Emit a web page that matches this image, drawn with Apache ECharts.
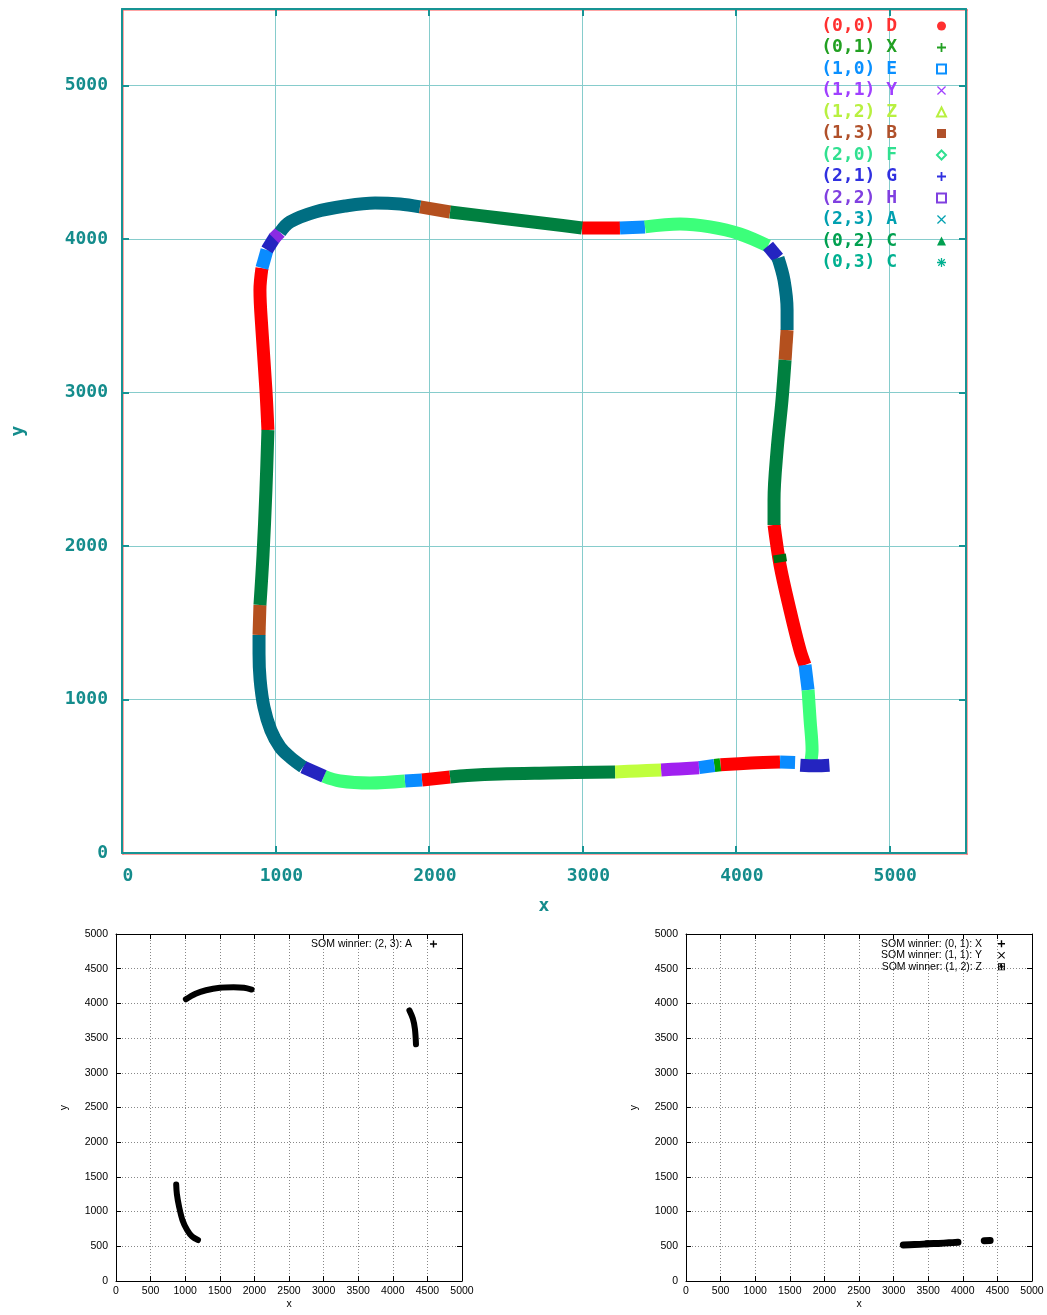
<!DOCTYPE html>
<html><head><meta charset="utf-8">
<script src="https://cdn.jsdelivr.net/npm/echarts@6/dist/echarts.min.js"></script>
<style>html,body{margin:0;padding:0;background:#fff}#c{width:1047px;height:1315px}</style>
</head><body><div id="c"></div>
<script>
// ---------------- DATA (top map: winner segments along the path, x/y data units) ----------------
const topNames = ['(0,0) D','(0,1) X','(1,0) E','(1,1) Y','(1,2) Z','(1,3) B','(2,0) F','(2,1) G','(2,2) H','(2,3) A','(0,2) C','(0,3) C'];

const segD = [
  [[951,2757],[938,3017],[912,3408],[899,3669],[912,3812]],
  [[2998,4073],[3245,4073]],
  [[4249,2138],[4288,1877],[4353,1584],[4418,1323],[4451,1225]],
  [[4288,593],[4100,586],[3900,575]],
  [[2138,495],[1955,476]]
];
const segX = [
  [[3900,575],[3860,570]]
];
const segE = [
  [[912,3812],[945,3930]],
  [[3245,4073],[3408,4080]],
  [[4451,1225],[4471,1062]],
  [[4386,590],[4288,593]],
  [[3860,570],[3760,556]],
  [[1955,476],[1844,469]]
];
const segY = [
  [[3760,556],[3630,548],[3513,541]]
];
const segZ = [
  [[3513,541],[3360,535],[3213,528]]
];
const segB = [
  [[893,1421],[899,1616]],
  [[1942,4210],[2138,4177]],
  [[4334,3408],[4321,3213]]
];
const segF = [
  [[3408,4080],[3636,4099],[3832,4080],[4027,4034],[4210,3956]],
  [[4471,1062],[4484,867],[4497,671],[4490,600]],
  [[1844,469],[1616,456],[1421,469],[1316,500]]
];
const segG = [
  [[945,3930],[997,4014]],
  [[4210,3956],[4275,3878]],
  [[4420,572],[4520,568],[4610,572]],
  [[1316,500],[1180,560]]
];
const segH = [
  [[990,4005],[1030,4045]]
];
const segA = [
  [[1030,4045],[1095,4112],[1258,4177],[1453,4216],[1649,4236],[1812,4229],[1942,4210]],
  [[4275,3878],[4314,3734],[4334,3539],[4334,3408]],
  [[1180,560],[1095,625],[1030,690],[970,800],[925,950],[900,1130],[893,1300],[893,1421]]
];
const segC2 = [
  [[4284,1945],[4292,1895]]
];
const segC3 = [
  [[899,1616],[919,1942],[938,2366],[951,2757]],
  [[2138,4177],[2463,4138],[2789,4099],[2998,4073]],
  [[4321,3213],[4301,2952],[4269,2626],[4249,2300],[4249,2138]],
  [[3213,528],[2789,521],[2463,515],[2250,505],[2138,495]]
];

// ---------------- DATA (bottom-left: SOM winner (2,3) A) ----------------
const leftName = 'SOM winner: (2, 3): A';
const leftA = [
  [[1010,4060],[1150,4140],[1300,4190],[1500,4225],[1700,4232],[1850,4225],[1960,4200]],
  [[4240,3900],[4290,3780],[4320,3630],[4335,3410]],
  [[870,1390],[880,1250],[910,1080],[960,880],[1030,730],[1100,640],[1185,590]]
];

// ---------------- DATA (bottom-right: winners X, Y, Z) ----------------
const rightNames = ['SOM winner: (0, 1): X','SOM winner: (1, 1): Y','SOM winner: (1, 2): Z'];
const rightX = [[[4310,581],[4395,582]]];
const rightY = [[[3480,535],[3650,542],[3800,550],[3930,558]]];
const rightZ = [[[3140,520],[3300,525],[3480,535]]];

// axis ranges
const topRange = {min:0, max:5500, interval:1000};
const botRange = {min:0, max:5000, interval:500};

// ---------------- STYLES ----------------
const topSegs = [segD, segX, segE, segY, segZ, segB, segF, segG, segH, segA, segC2, segC3];
const lineColors = ['#ff0000','#00a000','#0a8cff','#a020f0','#c0ff3e','#b4501e','#3cff7a','#2424c0','#8a2be2','#006e82','#006a10','#008040'];
const legendColors = ['#ff3030','#22a022','#0a90ff','#a040ff','#b8f040','#b0502a','#30e090','#3030e0','#8040e0','#00a0b0','#00a050','#00b090'];
const PLUS = 'path://M4,0H6V4H10V6H6V10H4V6H0V4H4Z';
const CROSS = 'path://M1,0L5,4L9,0L10,1L6,5L10,9L9,10L5,6L1,10L0,9L4,5L0,1Z';
const STAR = 'path://M4.3,0H5.7V3.3L8.1,0.9L9.1,1.9L6.7,4.3H10V5.7H6.7L9.1,8.1L8.1,9.1L5.7,6.7V10H4.3V6.7L1.9,9.1L0.9,8.1L3.3,5.7H0V4.3H3.3L0.9,1.9L1.9,0.9L4.3,3.3Z';
const BOXSTAR = 'path://M0,0H10V10H0Z M1.2,1.2V8.8H8.8V1.2Z M4.3,1.2H5.7V4L7.8,1.9L8.4,2.5L6,4.3H8.8V5.7H6L8.4,7.5L7.8,8.1L5.7,6V8.8H4.3V6L2.2,8.1L1.6,7.5L4,5.7H1.2V4.3H4L1.6,2.5L2.2,1.9Z';
const topIcons = ['circle', PLUS, 'emptyRect', CROSS, 'emptyTriangle', 'rect', 'emptyDiamond', PLUS, 'emptyRect', CROSS, 'triangle', STAR];

const teal = '#179494';
const tealGrid = '#86cccc';
const monoFont = 'DejaVu Sans Mono';
const sansFont = 'Liberation Sans';
const plain = v => String(v);

function segSeries(name, segs, color, width, xi, yi, cap) {
  return segs.map(seg => ({
    name: name, type: 'line', xAxisIndex: xi, yAxisIndex: yi,
    data: seg, smooth: 0.35, symbol: 'none', showSymbol: false,
    silent: true, animation: false, clip: true,
    color: color,
    lineStyle: {color: color, width: width, cap: cap, join: 'round'},
    itemStyle: {color: color}
  }));
}

const series = [];
topNames.forEach((n, i) => series.push(...segSeries(n, topSegs[i], lineColors[i], 13, 0, 0, 'butt')));
series.push(...segSeries(leftName, leftA, '#000', 6, 2, 2, 'round'));
series.push(...segSeries(rightNames[0], rightX, '#000', 7, 4, 4, 'round'));
series.push(...segSeries(rightNames[1], rightY, '#000', 7, 4, 4, 'round'));
series.push(...segSeries(rightNames[2], rightZ, '#000', 7, 4, 4, 'round'));

function topAxis(kind, pos, main) {
  const a = {
    type: 'value', gridIndex: 0, position: pos,
    min: topRange.min, max: topRange.max, interval: topRange.interval,
    axisLine: {show: true, onZero: false, lineStyle: {color: teal, width: 2, shadowColor: 'rgba(255,90,90,0.55)', shadowOffsetX: 1, shadowOffsetY: 1}},
    axisTick: {show: true, inside: true, length: 7, lineStyle: {color: teal, width: 2}},
    splitLine: {show: main, lineStyle: {color: tealGrid, width: 1}},
    axisLabel: {show: main, showMaxLabel: false, formatter: plain, color: '#148c8c', fontFamily: monoFont, fontSize: 18, fontWeight: 'bold',
      textShadowColor: 'rgba(255,90,90,0.45)', textShadowOffsetX: 1, textShadowOffsetY: 1}
  };
  if (main) {
    a.name = kind === 'x' ? 'x' : 'y';
    a.nameLocation = 'middle';
    a.nameTextStyle = {color: '#148c8c', fontFamily: monoFont, fontSize: 18, fontWeight: 'bold'};
    if (kind === 'x') { a.nameGap = 44; a.axisLabel.margin = 14; a.axisLabel.padding = [0,0,0,12]; }
    else { a.nameGap = 95; a.axisLabel.margin = 14; }
  }
  return a;
}

function botAxis(kind, pos, main, gi) {
  const a = {
    type: 'value', gridIndex: gi, position: pos,
    min: botRange.min, max: botRange.max, interval: botRange.interval,
    axisLine: {show: true, onZero: false, lineStyle: {color: '#000', width: 1}},
    axisTick: {show: true, inside: true, length: 5, lineStyle: {color: '#000', width: 1}},
    splitLine: {show: main, lineStyle: {color: '#888', width: 1, type: [1, 2]}},
    axisLabel: {show: main, formatter: plain, color: '#000', fontFamily: sansFont, fontSize: 10.5, margin: kind === 'x' ? 5 : 8}
  };
  if (main) {
    a.name = kind;
    a.nameLocation = 'middle';
    a.nameTextStyle = {color: '#000', fontFamily: sansFont, fontSize: 10.5};
    a.nameGap = kind === 'x' ? 18 : 46;
  }
  return a;
}

const option = {
  backgroundColor: '#fff',
  animation: false,
  grid: [
    {left: 122, right: 81, top: 9, bottom: 462, containLabel: false, outerBoundsMode: 'none'},
    {left: 116, right: 585, top: 934, bottom: 34, containLabel: false, outerBoundsMode: 'none'},
    {left: 686, right: 15, top: 934, bottom: 34, containLabel: false, outerBoundsMode: 'none'}
  ],
  xAxis: [
    topAxis('x', 'bottom', true), topAxis('x', 'top', false),
    botAxis('x', 'bottom', true, 1), botAxis('x', 'top', false, 1),
    botAxis('x', 'bottom', true, 2), botAxis('x', 'top', false, 2)
  ],
  yAxis: [
    topAxis('y', 'left', true), topAxis('y', 'right', false),
    botAxis('y', 'left', true, 1), botAxis('y', 'right', false, 1),
    botAxis('y', 'left', true, 2), botAxis('y', 'right', false, 2)
  ],
  legend: [
    {
      orient: 'vertical', align: 'right', right: 100, top: 17, padding: 0,
      itemWidth: 9, itemHeight: 9, itemGap: 3.5, selectedMode: false,
      textStyle: {fontFamily: monoFont, fontSize: 18, fontWeight: 'bold', lineHeight: 14, padding: [0, 35, 0, 0]},
      data: topNames.map((n, i) => ({name: n, icon: topIcons[i], itemStyle: {color: legendColors[i], borderColor: legendColors[i]}, textStyle: {color: legendColors[i]}}))
    },
    {
      orient: 'vertical', align: 'right', right: 610, top: 938, padding: 0,
      itemWidth: 7, itemHeight: 7, itemGap: 0, selectedMode: false,
      textStyle: {fontFamily: sansFont, fontSize: 10.5, color: '#000', lineHeight: 12, padding: [0, 13, 0, 0]},
      data: [{name: leftName, icon: PLUS, itemStyle: {color: '#000'}}]
    },
    {
      orient: 'vertical', align: 'right', right: 42, top: 938, padding: 0,
      itemWidth: 7, itemHeight: 7, itemGap: 0, selectedMode: false,
      textStyle: {fontFamily: sansFont, fontSize: 10.5, color: '#000', lineHeight: 11.5, padding: [0, 11, 0, 0]},
      data: [
        {name: rightNames[0], icon: PLUS, itemStyle: {color: '#000'}},
        {name: rightNames[1], icon: CROSS, itemStyle: {color: '#000'}},
        {name: rightNames[2], icon: BOXSTAR, itemStyle: {color: '#000'}}
      ]
    }
  ],
  series: series
};

const chart = echarts.init(document.getElementById('c'), null, {renderer: 'canvas'});
chart.setOption(option);
</script>
</body></html>
